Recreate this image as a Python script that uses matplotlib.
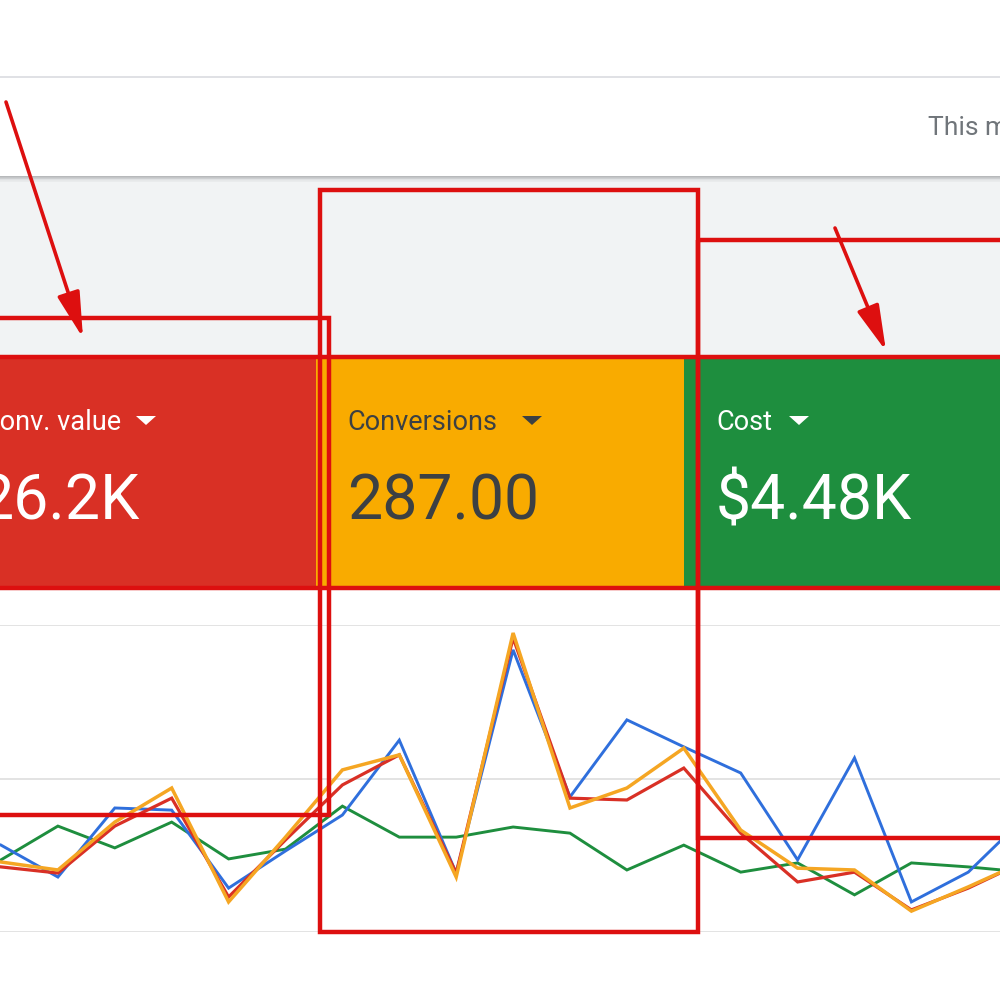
import matplotlib
matplotlib.use("Agg")
import matplotlib.pyplot as plt
from matplotlib.patches import Rectangle, Polygon

plt.rcParams['font.family'] = ['Roboto', 'DejaVu Sans']

# ---- data -------------------------------------------------------------
tile_labels = ['Conv. value', 'Conversions', 'Cost']
tile_values = ['26.2K', '287.00', '$4.48K']
period_label = 'This month'

days = list(range(19))
fourth_metric = [28.3, 17.9, 40.4, 39.7, 14.3, 26.4, 38.1, 62.5, 19.2, 91.9,
                 44.0, 69.1, 60.3, 51.8, 23.5, 56.7, 9.8, 19.5, 37.5]
conv_value = [21.2, 19.2, 34.5, 43.6, 11.4, 30.0, 47.9, 57.7, 19.2, 95.8,
              43.6, 43.0, 53.4, 32.2, 16.3, 19.5, 7.2, 14.3, 23.1]
conversions = [22.8, 20.2, 35.8, 46.9, 9.8, 30.9, 52.8, 57.7, 17.9, 97.4,
               40.4, 46.9, 59.9, 33.2, 20.8, 20.2, 6.8, 14.7, 23.1]
cost = [23.5, 34.5, 27.4, 35.8, 23.8, 27.0, 41.0, 30.9, 30.9, 34.2,
        32.2, 20.2, 28.3, 19.5, 22.5, 12.1, 22.5, 21.2, 19.5]

BLUE, RED, YELLOW, GREEN = '#2f6fdc', '#d93025', '#f5a623', '#1e8e3e'
MARK = '#dd0f0f'

fig = plt.figure(figsize=(10, 10), dpi=100)

# ---- page chrome (pixel coordinates) ---------------------------------
bg = fig.add_axes([0, 0, 1, 1])
bg.set_xlim(0, 1000)
bg.set_ylim(1000, 0)
bg.axis('off')
bg.set_zorder(0)

bg.plot([0, 1000], [77, 77], color='#dadce0', lw=1.2)
bg.text(928, 128, period_label, color='#70757a', fontsize=19,
        va='center', ha='left', clip_on=True)

bg.add_patch(Rectangle((0, 178), 1000, 182, color='#f1f3f4', lw=0))
for k, c in enumerate(['#a9abae', '#c6c8ca', '#dcdee0', '#e8eaeb']):
    bg.plot([0, 1000], [177 + k * 1.3, 177 + k * 1.3], color=c, lw=1.2)

tile_x = [0, 316, 684]
tile_w = [316, 368, 316]
tile_colors = [RED, '#f9ab00', GREEN]
text_colors = ['white', '#3c4043', 'white']
text_x = [-18, 347, 716]
value_x = [-22, 347, 716]
arrow_x = [136, 522, 789]
for x0, w, fc, tc, tx, vx, ax_, lab, val in zip(tile_x, tile_w, tile_colors,
                                                text_colors, text_x, value_x,
                                                arrow_x, tile_labels, tile_values):
    bg.add_patch(Rectangle((x0, 358), w, 230, color=fc, lw=0))
    bg.text(tx, 430, lab, color=tc, fontsize=19.5, va='baseline', ha='left',
            clip_on=True)
    bg.text(vx, 519, val, color=tc, fontsize=45, va='baseline', ha='left',
            clip_on=True)
    bg.add_patch(Polygon([[ax_, 416], [ax_ + 20, 416], [ax_ + 10, 425]],
                         closed=True, color=tc, lw=0))

# ---- line chart --------------------------------------------------------
ax = fig.add_axes([0, 0.068, 1, 0.307])
ax.set_zorder(1)
ax.patch.set_alpha(0)
step = 56.9
ax.set_xlim(-1 / step, 999 / step)
ax.set_ylim(0, 100)
ax.set_yticks([0, 50, 100])
ax.grid(axis='y', color='#e0e0e0', lw=1.3)
ax.set_xticks([])
ax.tick_params(left=False, labelleft=False)
for s in ax.spines.values():
    s.set_visible(False)

ax.plot(days, cost, color=GREEN, lw=2.1, solid_joinstyle='miter')
ax.plot(days, fourth_metric, color=BLUE, lw=2.1, solid_joinstyle='miter')
ax.plot(days, conv_value, color=RED, lw=2.3, solid_joinstyle='miter')
ax.plot(days, conversions, color=YELLOW, lw=2.5, solid_joinstyle='miter')

# ---- red callouts ------------------------------------------------------
ov = fig.add_axes([0, 0, 1, 1])
ov.set_zorder(2)
ov.patch.set_alpha(0)
ov.set_xlim(0, 1000)
ov.set_ylim(1000, 0)
ov.axis('off')

boxes = [(-20, 318, 349, 497), (320, 190, 378, 742),
         (698, 240, 330, 598), (-20, 357, 1040, 231)]
for bx, by, bw, bh in boxes:
    ov.add_patch(Rectangle((bx, by), bw, bh, fill=False, ec=MARK, lw=3.2,
                           joinstyle='miter'))

for (x0, y0), (x1, y1) in [((6, 102), (83, 338)), ((835, 228), (886, 351))]:
    ov.annotate('', xy=(x1, y1), xytext=(x0, y0),
                arrowprops=dict(arrowstyle='-|>,head_length=1.4,head_width=0.35',
                                color=MARK, lw=2.6, mutation_scale=20,
                                shrinkA=0, shrinkB=0))

fig.savefig('out.png', dpi=100)
